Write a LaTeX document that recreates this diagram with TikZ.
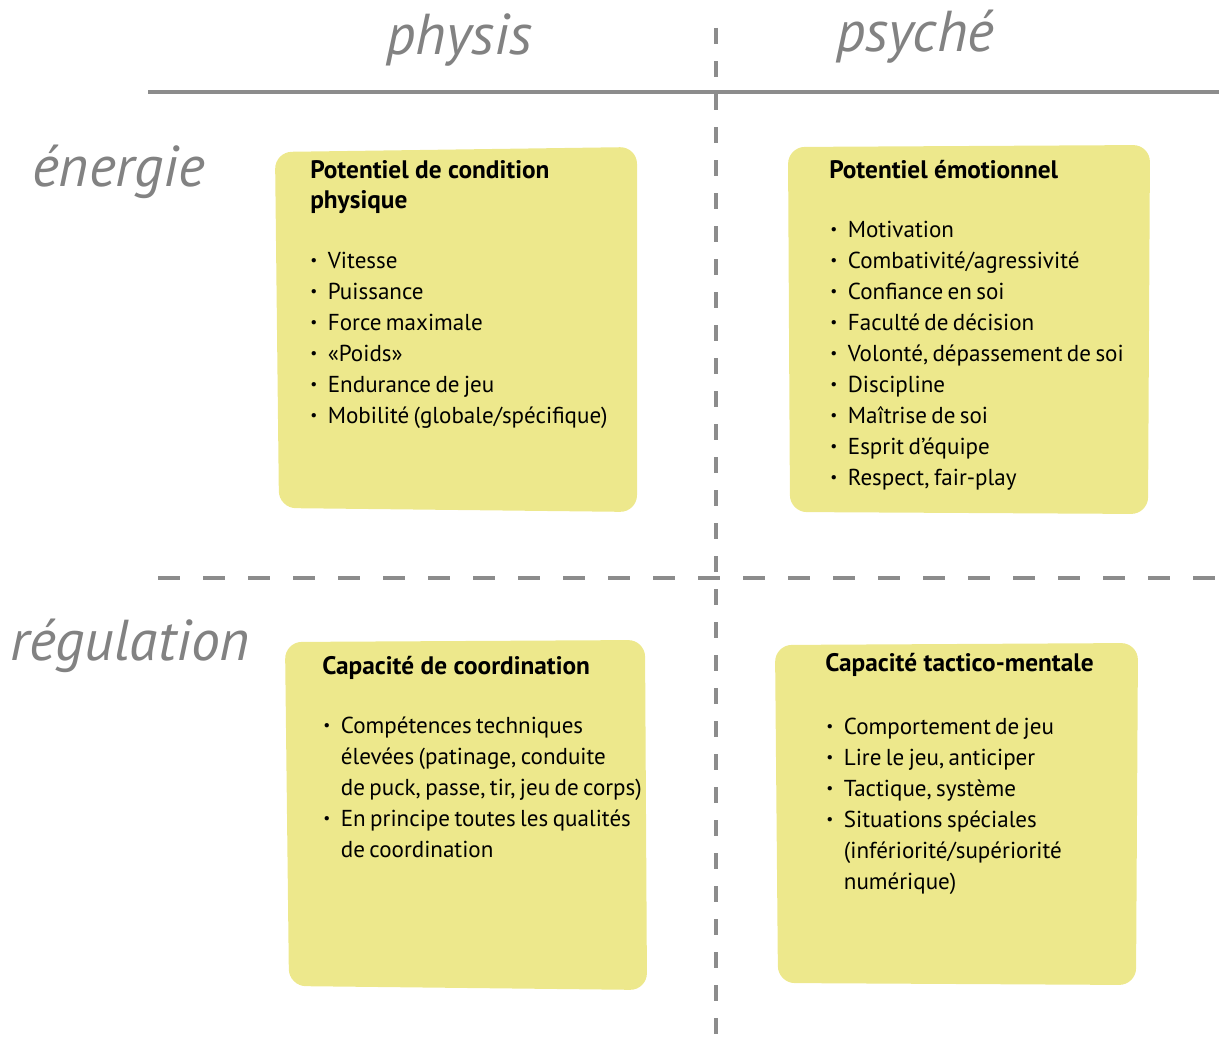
\documentclass[tikz,border=0pt]{standalone}
\usepackage{fontspec}
\setmainfont{PT Sans}
\usetikzlibrary{positioning}
\definecolor{padyellow}{RGB}{237,232,140}
\definecolor{handgray}{RGB}{130,130,130}
\definecolor{linegray}{RGB}{140,140,140}
\tikzset{
  pad/.style={fill=padyellow, rounded corners=12pt},
  hand/.style={handgray, font=\fontsize{41}{46}\selectfont\itshape, inner sep=0pt, anchor=base west},
  padtitle/.style={font=\fontsize{18}{22}\selectfont\bfseries, anchor=base west, inner sep=0pt},
  paditem/.style={font={\fontsize{16.4}{22}\selectfont\spaceskip=0.19em\relax}, anchor=base west, inner sep=0pt},
  axis line/.style={linegray, line width=3.5pt},
  dash line/.style={linegray, line width=2.2pt, dash pattern=on 0.55cm off 0.575cm}
}
\newcommand{\itm}[1]{\makebox[0.44cm][l]{\raisebox{1.6pt}{\fontsize{11}{11}\selectfont\textbullet}}#1}
\newcommand{\cnt}[1]{\hspace*{0.44cm}#1}

\begin{document}
\begin{tikzpicture}[x=0.025cm, y=-0.025cm]
  \useasboundingbox (0,0) rectangle (1219,1038);

  % yellow pads
  \fill[pad] (275,152) -- (637,147) -- (637,512) -- (279,508) -- cycle;
  \fill[pad] (788,147) -- (1150,145) -- (1148,514) -- (790,512) -- cycle;
  \fill[pad] (285,642) -- (645,640) -- (647,990) -- (289,986) -- cycle;
  \fill[pad] (775,645) -- (1138,643) -- (1136,985) -- (778,983) -- cycle;

  % axes
  \coordinate (top left) at (148,92);
  \coordinate (top right) at (1219,92);
  \coordinate (mid top) at (716,28);
  \coordinate (mid bottom) at (716,1038);
  \coordinate (dash left) at (158,578);
  \coordinate (dash right) at (1219,578);
  \draw[axis line] (top left) -- (top right);
  \draw[dash line, line width=3.5pt, dash pattern=on 0.4cm off 0.425cm] (mid top) -- (mid bottom);
  \draw[dash line] (dash left) -- (dash right);

  % handwritten labels
  \node[hand] (physis) at (386,55) {physis};
  \node[hand] (psyche) at (836,52) {psyché};
  \node[hand] (energie) at (32,187) {énergie};
  \node[hand] (regulation) at (10,660) {régulation};

  % top left
  \node[padtitle] (cond title) at (310,178) {Potentiel de condition};
  \node[padtitle] (cond title2) at (310,208) {physique};
  \foreach \txt [count=\i from 0] in {\itm{Vitesse}, \itm{Puissance}, \itm{Force maximale},
      \itm{«Poids»}, \itm{Endurance de jeu}, \itm{Mobilité (globale/spécifique)}}
    \node[paditem] (cond \i) at (310,{268+31*\i}) {\txt};

  % top right
  \node[padtitle] (emo title) at (829,178) {Potentiel émotionnel};
  \foreach \txt [count=\i from 0] in {\itm{Motivation}, \itm{Combativité/agressivité},
      \itm{Confiance en soi}, \itm{Faculté de décision}, {\itm{Volonté, dépassement de soi}},
      \itm{Discipline}, \itm{Maîtrise de soi}, \itm{Esprit d’équipe}, {\itm{Respect, fair-play}}}
    \node[paditem] (emo \i) at (830,{237+31*\i}) {\txt};

  % bottom left
  \node[padtitle] (coord title) at (322,674) {Capacité de coordination};
  \foreach \txt [count=\i from 0] in {\itm{Compétences techniques},
      {\cnt{élevées (patinage, conduite}}, {\cnt{de puck, passe, tir, jeu de corps)}},
      \itm{En principe toutes les qualités}, \cnt{de coordination}}
    \node[paditem] (coord \i) at (323,{733+31*\i}) {\txt};

  % bottom right
  \node[padtitle] (tact title) at (825,671) {Capacité tactico-mentale};
  \foreach \txt [count=\i from 0] in {\itm{Comportement de jeu}, {\itm{Lire le jeu, anticiper}},
      {\itm{Tactique, système}}, \itm{Situations spéciales}, \cnt{(infériorité/supériorité},
      \cnt{numérique)}}
    \node[paditem] (tact \i) at (826,{734+31*\i}) {\txt};
\end{tikzpicture}
\end{document}
